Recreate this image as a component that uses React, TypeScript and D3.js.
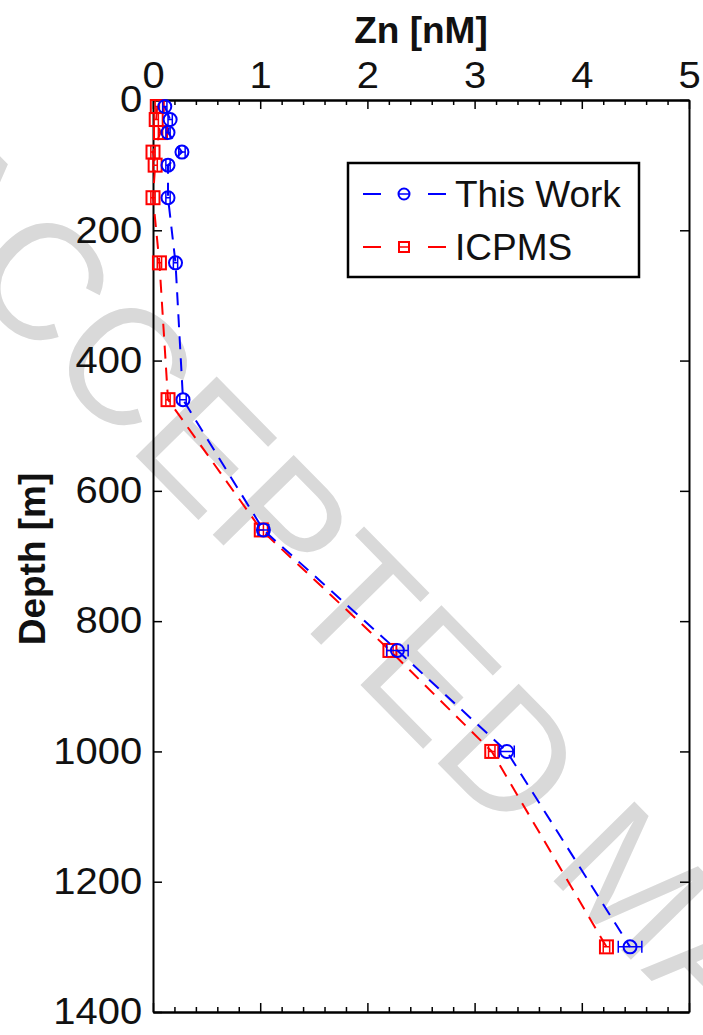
import React, { useEffect, useRef } from "react";
import * as d3 from "d3";

// depth of the samples [m]
const depths = [10, 30, 50, 80, 100, 150, 250, 460, 660, 845, 1000, 1300];
// Zn [nM], this work (blue circles) and ICPMS (red squares)
const znThisWork = [0.11, 0.16, 0.14, 0.27, 0.14, 0.14, 0.21, 0.28, 1.03, 2.28, 3.3, 4.45];
const errThisWork = [0.02, 0.02, 0.02, 0.03, 0.02, 0.02, 0.02, 0.03, 0.05, 0.1, 0.07, 0.11];
const znIcpms = [0.04, 0.03, 0.07, 0.0, 0.02, 0.0, 0.06, 0.14, 1.01, 2.21, 3.16, 4.23];
const errIcpms = [0.02, 0.02, 0.02, 0.02, 0.02, 0.02, 0.02, 0.02, 0.02, 0.03, 0.03, 0.03];

const xTicks = [0, 1, 2, 3, 4, 5];
const yTicks = [0, 200, 400, 600, 800, 1000, 1200, 1400];
const seriesNames = ["This Work", "ICPMS"];

const W = 703,
	H = 1035;
const FONT = "'Liberation Sans', Arial, Helvetica, sans-serif";

const drawChart = (svgRef) => {
	const svg = d3.select(svgRef.current);
	svg.selectAll("*").remove();

	const left = 153,
		right = 689,
		top = 100,
		bottom = 1012;

	const x = d3.scaleLinear().domain([0, 5]).range([left, right]);
	const y = d3.scaleLinear().domain([0, 1400]).range([top, bottom]);

	// watermark
	svg
		.append("text")
		.attr("transform", "translate(-118,198) rotate(45.5)")
		.attr("font-family", FONT)
		.attr("font-size", 165)
		.attr("fill", "#d9d9d9")
		.text("ACCEPTED MANUSCRIPT");

	const minor = d3.range(0, 5.001, 0.2).filter((v) => Math.abs(v - Math.round(v)) > 0.01);

	const styleAxis = (g) => {
		g.select(".domain").attr("stroke", "#000").attr("stroke-width", 2);
		g.selectAll(".tick line").attr("stroke", "#000").attr("stroke-width", 1.5);
		g.selectAll("text")
			.attr("fill", "#111")
			.attr("font-family", FONT)
			.attr("font-size", 37)
			.attr("transform", "scale(1.08,1)");
	};

	// top axis with labels
	svg
		.append("g")
		.attr("transform", `translate(0,${top})`)
		.call(d3.axisTop(x).tickValues(xTicks).tickSizeInner(-9).tickSizeOuter(0).tickPadding(12).tickFormat(d3.format("d")))
		.call(styleAxis);
	svg
		.append("g")
		.attr("transform", `translate(0,${top})`)
		.call(d3.axisTop(x).tickValues(minor).tickSizeInner(-5).tickSizeOuter(0).tickFormat(() => ""))
		.call(styleAxis);

	// bottom mirror
	svg
		.append("g")
		.attr("transform", `translate(0,${bottom})`)
		.call(d3.axisBottom(x).tickValues(xTicks).tickSizeInner(-9).tickSizeOuter(0).tickFormat(() => ""))
		.call(styleAxis);
	svg
		.append("g")
		.attr("transform", `translate(0,${bottom})`)
		.call(d3.axisBottom(x).tickValues(minor).tickSizeInner(-5).tickSizeOuter(0).tickFormat(() => ""))
		.call(styleAxis);

	// left axis with labels
	svg
		.append("g")
		.attr("transform", `translate(${left},0)`)
		.call(d3.axisLeft(y).tickValues(yTicks).tickSizeInner(-9).tickSizeOuter(0).tickPadding(10).tickFormat(d3.format("d")))
		.call(styleAxis);

	// right mirror
	svg
		.append("g")
		.attr("transform", `translate(${right},0)`)
		.call(d3.axisRight(y).tickValues(yTicks).tickSizeInner(-9).tickSizeOuter(0).tickFormat(() => ""))
		.call(styleAxis);

	// axis titles
	svg
		.append("text")
		.attr("x", (left + right) / 2)
		.attr("y", 43)
		.attr("text-anchor", "middle")
		.attr("font-family", FONT)
		.attr("font-weight", "bold")
		.attr("font-size", 37)
		.attr("fill", "#111")
		.text("Zn [nM]");
	svg
		.append("text")
		.attr("transform", `translate(45,${(top + bottom) / 2 + 3}) rotate(-90)`)
		.attr("text-anchor", "middle")
		.attr("font-family", FONT)
		.attr("font-weight", "bold")
		.attr("font-size", 37)
		.attr("fill", "#111")
		.text("Depth [m]");

	const series = [
		{ name: seriesNames[0], zn: znThisWork, err: errThisWork, color: "#0000ff", marker: "circle" },
		{ name: seriesNames[1], zn: znIcpms, err: errIcpms, color: "#ff0000", marker: "square" },
	];

	const line = d3
		.line()
		.x((d) => x(d[0]))
		.y((d) => y(d[1]));

	const drawMarker = (g, cx, cy, s) => {
		if (s.marker === "circle") {
			g.append("circle")
				.attr("cx", cx)
				.attr("cy", cy)
				.attr("r", 6.5)
				.attr("fill", "none")
				.attr("stroke", s.color)
				.attr("stroke-width", 2);
		} else {
			g.append("rect")
				.attr("x", cx - 6.5)
				.attr("y", cy - 6.5)
				.attr("width", 13)
				.attr("height", 13)
				.attr("fill", "none")
				.attr("stroke", s.color)
				.attr("stroke-width", 2);
		}
	};

	// draw ICPMS first so blue sits on top
	[series[1], series[0]].forEach((s) => {
		const pts = depths.map((d, i) => [s.zn[i], d]);
		svg
			.append("path")
			.attr("d", line(pts))
			.attr("fill", "none")
			.attr("stroke", s.color)
			.attr("stroke-width", 2)
			.attr("stroke-dasharray", "13,9");

		const g = svg.append("g");
		depths.forEach((d, i) => {
			const cy = y(d);
			const x0 = x(s.zn[i] - s.err[i]);
			const x1 = x(s.zn[i] + s.err[i]);
			g.append("path")
				.attr("d", `M${x0},${cy}H${x1}M${x0},${cy - 6}V${cy + 6}M${x1},${cy - 6}V${cy + 6}`)
				.attr("fill", "none")
				.attr("stroke", s.color)
				.attr("stroke-width", 1.5);
			drawMarker(g, x(s.zn[i]), cy, s);
		});
	});

	// legend
	const lg = svg.append("g");
	lg.append("rect")
		.attr("x", 348)
		.attr("y", 163)
		.attr("width", 291)
		.attr("height", 114)
		.attr("fill", "#fff")
		.attr("stroke", "#000")
		.attr("stroke-width", 2.5);
	series.forEach((s, i) => {
		const ly = 194 + i * 53;
		lg.append("path")
			.attr("d", `M363,${ly}H381M428,${ly}H446`)
			.attr("stroke", s.color)
			.attr("stroke-width", 2);
		lg.append("path")
			.attr("d", `M398,${ly}H410`)
			.attr("stroke", s.color)
			.attr("stroke-width", 1.5);
		if (s.marker === "circle") {
			lg.append("circle")
				.attr("cx", 404)
				.attr("cy", ly)
				.attr("r", 5.5)
				.attr("fill", "none")
				.attr("stroke", s.color)
				.attr("stroke-width", 2);
		} else {
			lg.append("rect")
				.attr("x", 399)
				.attr("y", ly - 5)
				.attr("width", 10)
				.attr("height", 10)
				.attr("fill", "none")
				.attr("stroke", s.color)
				.attr("stroke-width", 2);
		}
		lg.append("text")
			.attr("x", 455)
			.attr("y", ly + 13)
			.attr("font-family", FONT)
			.attr("font-size", 37)
			.attr("fill", "#111")
			.text(s.name);
	});
};

const App = () => {
	const svgRef = useRef(null);

	useEffect(() => {
		drawChart(svgRef);
	}, []);

	return (
		<svg
			ref={svgRef}
			width={W}
			height={H}
			style={{ position: "absolute", left: 0, top: 0, background: "#fff" }}
		/>
	);
};

export default App;
